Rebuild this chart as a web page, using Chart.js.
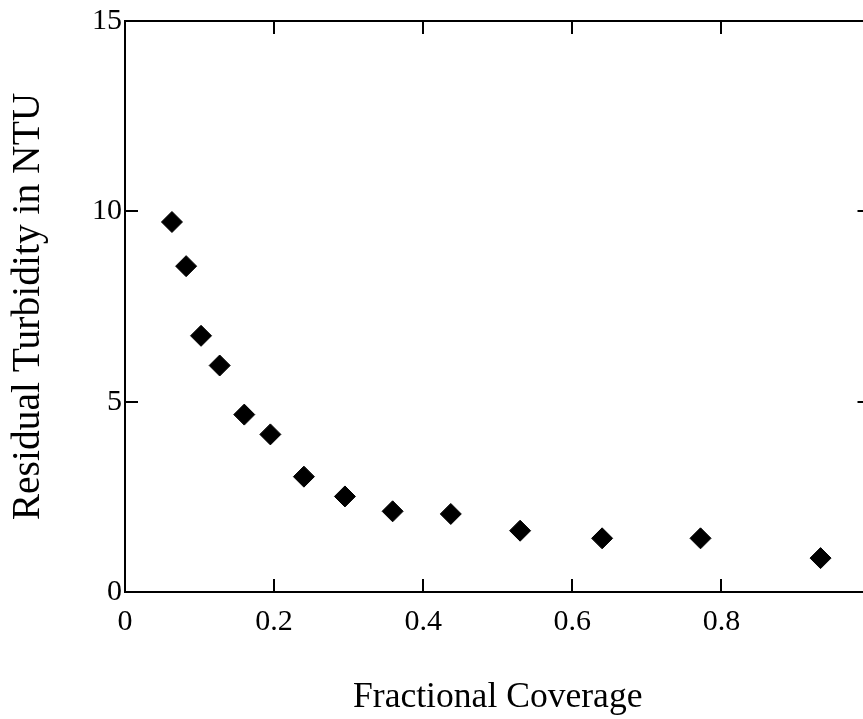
<!DOCTYPE html>
<html>
<head>
<meta charset="utf-8">
<script src="https://cdn.jsdelivr.net/npm/chart.js@4.4.1/dist/chart.umd.min.js"></script>
<style>
html, body { margin: 0; padding: 0; background: #fff; overflow: hidden; }
canvas { display: block; }
</style>
</head>
<body>
<canvas id="chart" width="882" height="719"></canvas>
<script>
// data
const coverage  = [0.063, 0.082, 0.102, 0.127, 0.160, 0.195, 0.240, 0.295, 0.359, 0.437, 0.530, 0.640, 0.772, 0.933];
const turbidity = [9.72, 8.56, 6.73, 5.95, 4.66, 4.14, 3.03, 2.51, 2.12, 2.05, 1.61, 1.41, 1.41, 0.89];
const xTicks = [0, 0.2, 0.4, 0.6, 0.8];
const yTicks = [0, 5, 10, 15];

const SERIF = "'Liberation Serif', 'Times New Roman', serif";
const TICK_LEN = 13;

// inward tick marks on all four sides
const innerTicks = {
    id: "innerTicks",
    afterDraw(chart) {
        const {ctx, chartArea: a, scales} = chart;
        ctx.save();
        ctx.strokeStyle = "#000";
        ctx.lineWidth = 2;
        ctx.beginPath();
        xTicks.concat([1.0]).forEach(v => {
            const px = Math.round(scales.x.getPixelForValue(v));
            ctx.moveTo(px, a.bottom); ctx.lineTo(px, a.bottom - TICK_LEN);
            ctx.moveTo(px, a.top);    ctx.lineTo(px, a.top + TICK_LEN);
        });
        yTicks.forEach(v => {
            const py = Math.round(scales.y.getPixelForValue(v));
            ctx.moveTo(a.left, py);  ctx.lineTo(a.left + TICK_LEN, py);
            ctx.moveTo(a.right, py); ctx.lineTo(a.right - TICK_LEN, py);
        });
        ctx.stroke();
        ctx.restore();
    }
};

const frameAxis = (pos) => ({
    position: pos,
    display: true,
    ticks: { display: false },
    grid: { drawOnChartArea: false, drawTicks: false },
    border: { display: true, color: "#000", width: 2 },
    afterFit: s => { if (pos === "top") s.height = 0; else s.width = 0; }
});

new Chart(document.getElementById("chart"), {
    type: "scatter",
    data: {
        datasets: [{
            data: coverage.map((x, i) => ({x: x, y: turbidity[i]})),
            pointStyle: "rectRot",
            pointRadius: 10.5,
            backgroundColor: "#000",
            borderColor: "#000",
            borderWidth: 1
        }]
    },
    options: {
        responsive: false,
        animation: false,
        layout: { padding: { top: 13, right: 8, left: 0, bottom: 0 } },
        plugins: { legend: { display: false }, tooltip: { enabled: false } },
        scales: {
            x: {
                type: "linear",
                position: "bottom",
                min: 0,
                max: 1.0,
                afterBuildTicks: s => { s.ticks = xTicks.map(v => ({value: v})); },
                afterFit: s => { s.height = 127; },
                ticks: {
                    color: "#000",
                    font: { family: SERIF, size: 30 },
                    padding: 12,
                    maxRotation: 0,
                    callback: v => v === 0 ? "0" : v.toFixed(1)
                },
                grid: { drawOnChartArea: false, drawTicks: false },
                border: { display: true, color: "#000", width: 2 },
                title: {
                    display: true,
                    text: "Fractional Coverage",
                    color: "#000",
                    font: { family: SERIF, size: 35.6 },
                    padding: { top: 0, bottom: 0 }
                }
            },
            y: {
                type: "linear",
                position: "left",
                min: 0,
                max: 15,
                afterBuildTicks: s => { s.ticks = yTicks.map(v => ({value: v})); },
                afterFit: s => { s.width = 125; },
                ticks: {
                    color: "#000",
                    font: { family: SERIF, size: 30 },
                    padding: 3
                },
                grid: { drawOnChartArea: false, drawTicks: false },
                border: { display: true, color: "#000", width: 2 },
                title: {
                    display: true,
                    text: "Residual Turbidity in NTU",
                    color: "#000",
                    font: { family: SERIF, size: 39.5 },
                    padding: { top: 5, bottom: 0 }
                }
            },
            x2: Object.assign(frameAxis("top"), { type: "linear", min: 0, max: 1.0 }),
            y2: Object.assign(frameAxis("right"), { type: "linear", min: 0, max: 15 })
        }
    },
    plugins: [innerTicks]
});
</script>
</body>
</html>
